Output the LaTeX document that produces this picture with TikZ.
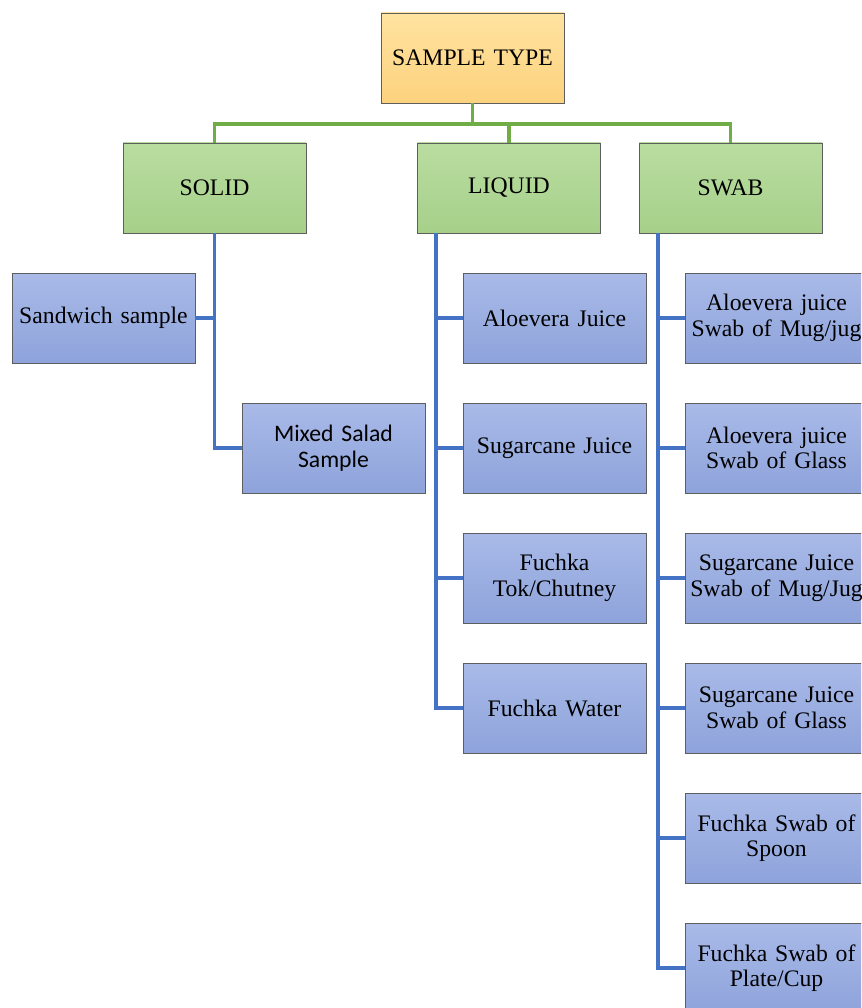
\documentclass[tikz,border=0pt]{standalone}
\usepackage{fontspec}
\setmainfont{Liberation Serif}
\newfontfamily\calibri{Carlito}
\definecolor{orgT}{HTML}{FFE3A0}
\definecolor{orgB}{HTML}{FCD27E}
\definecolor{grnT}{HTML}{B9DDA0}
\definecolor{grnB}{HTML}{A6D08A}
\definecolor{bluT}{HTML}{A9BAE8}
\definecolor{bluB}{HTML}{8EA3DB}
\definecolor{lineG}{HTML}{70AD47}
\definecolor{lineB}{HTML}{4472C4}
\definecolor{edge}{HTML}{5E5E5E}
\tikzset{
  box/.style={draw=edge, line width=0.8pt, minimum width=183pt, minimum height=90pt,
    inner sep=0pt, align=center, text width=182pt,
    font=\fontsize{23.7}{25.5}\selectfont},
  topbox/.style={box, top color=orgT, bottom color=orgB},
  catbox/.style={box, top color=grnT, bottom color=grnB},
  leafbox/.style={box, top color=bluT, bottom color=bluB},
  gline/.style={draw=lineG, line width=3.2pt},
  bline/.style={draw=lineB, line width=3.2pt},
}
\begin{document}
\begin{tikzpicture}[x=1pt,y=-1pt]
\useasboundingbox (0,0) rectangle (861,1008);
\begin{scope}
\clip (0,0) rectangle (861,1008);
% top
\node[topbox] (top) at (472.5,58) {SAMPLE TYPE};
\node[catbox] (solid) at (214.5,188) {SOLID};
\node[catbox] (liquid) at (509,188) {LIQUID};
\node[catbox] (swab) at (730.5,188) {SWAB};
\coordinate (bus) at (472.5,124);
\draw[gline] (top.south) -- (bus);
\draw[gline] (solid.north) |- (bus) -| (swab.north);
\draw[gline] (liquid.north) -- (liquid.north |- bus);
% solid
\node[leafbox] (sand) at (103.5,318) {Sandwich sample};
\node[leafbox, font=\calibri\fontsize{23.7}{25.5}\selectfont] (salad) at (333.5,448) {Mixed Salad\\Sample};
\draw[bline] (solid.south) |- (salad.west);
\draw[bline] (sand.east) -- (sand.east -| solid.south);
% liquid
\node[leafbox] (l1) at (554.5,318) {Aloevera Juice};
\node[leafbox] (l2) at (554.5,448) {Sugarcane Juice};
\node[leafbox] (l3) at (554.5,578) {Fuchka\\Tok/Chutney};
\node[leafbox] (l4) at (554.5,708) {Fuchka Water};
\coordinate (lv) at (436,233);
\draw[bline] (lv) |- (l4.west);
\foreach \n in {l1,l2,l3} \draw[bline] (\n.west) -- (\n.west -| lv);
% swab
\node[leafbox] (s1) at (776.5,318) {Aloevera juice\\Swab of Mug/jug};
\node[leafbox] (s2) at (776.5,448) {Aloevera juice\\Swab of Glass};
\node[leafbox] (s3) at (776.5,578) {Sugarcane Juice\\Swab of Mug/Jug};
\node[leafbox] (s4) at (776.5,708) {Sugarcane Juice\\Swab of Glass};
\node[leafbox] (s5) at (776.5,838) {Fuchka Swab of\\Spoon};
\node[leafbox] (s6) at (776.5,968) {Fuchka Swab of\\Plate/Cup};
\coordinate (wv) at (658,233);
\draw[bline] (wv) |- (s6.west);
\foreach \n in {s1,s2,s3,s4,s5} \draw[bline] (\n.west) -- (\n.west -| wv);
\end{scope}
\end{tikzpicture}
\end{document}
